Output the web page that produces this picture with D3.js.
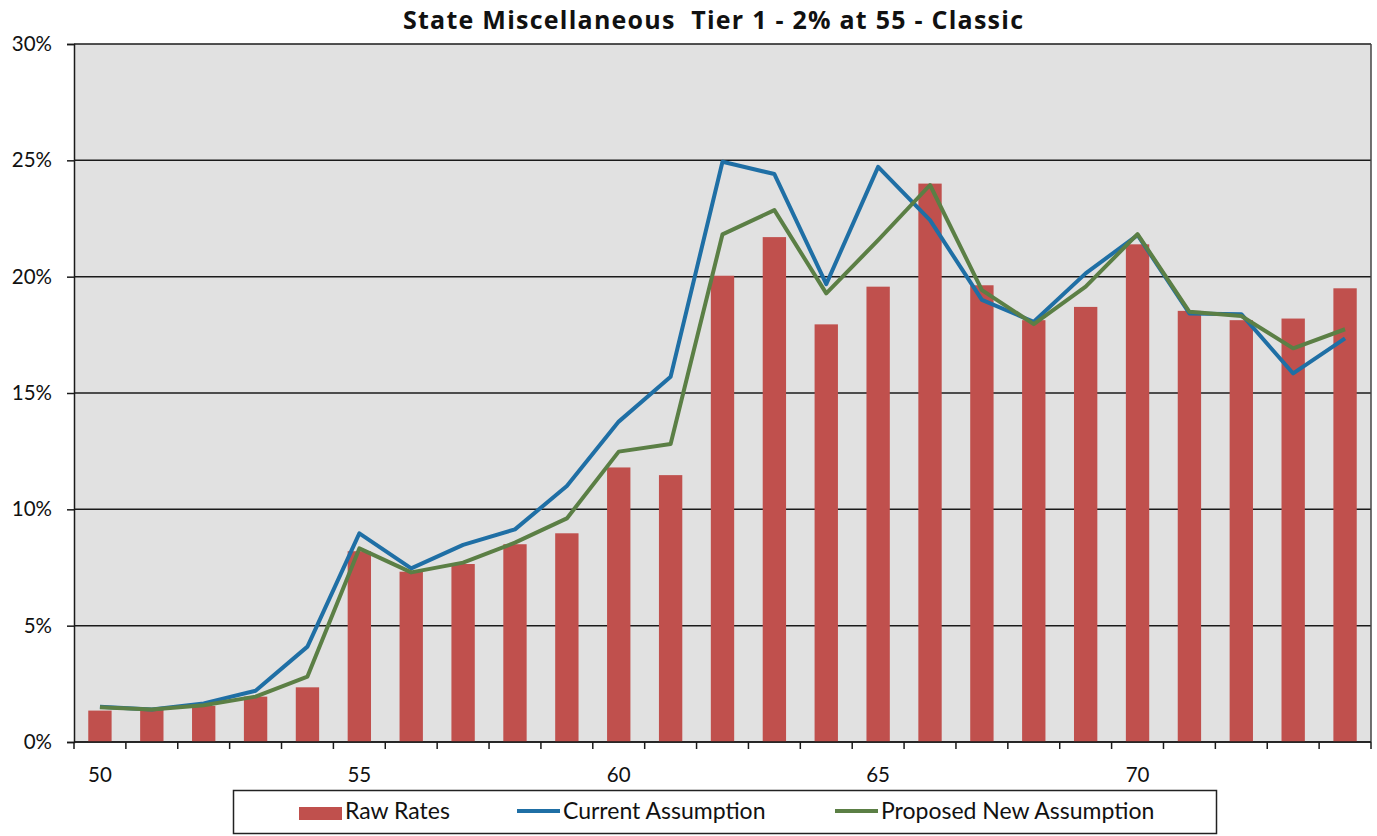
<!DOCTYPE html>
<html>
<head>
<meta charset="utf-8">
<script src="https://cdn.jsdelivr.net/npm/d3@7"></script>
<style>
  body { margin: 0; background: #fff; }
  text { font-family: Lato, "Open Sans", sans-serif; fill: #111; }
</style>
</head>
<body>
<svg id="chart"></svg>
<script>
const width = 1377, height = 836;

// ages on the x axis
const ages = [50, 51, 52, 53, 54, 55, 56, 57, 58, 59, 60, 61, 62, 63, 64, 65, 66, 67, 68, 69, 70, 71, 72, 73, 74];
// rates in percent
const rawRates = [1.35, 1.4, 1.55, 1.95, 2.35, 8.2, 7.32, 7.65, 8.5, 8.97, 11.8, 11.47, 20.04, 21.7, 17.95, 19.57, 24.0, 19.63, 18.13, 18.7, 21.39, 18.53, 18.13, 18.2, 19.5];
const currentAssumption = [1.52, 1.4, 1.66, 2.2, 4.1, 8.97, 7.46, 8.47, 9.14, 11.0, 13.77, 15.7, 24.94, 24.41, 19.68, 24.72, 22.43, 19.0, 18.06, 20.14, 21.79, 18.42, 18.39, 15.84, 17.35];
const proposedAssumption = [1.49, 1.4, 1.58, 1.95, 2.81, 8.32, 7.29, 7.71, 8.57, 9.61, 12.48, 12.81, 21.82, 22.86, 19.28, 21.57, 23.94, 19.42, 17.96, 19.57, 21.83, 18.49, 18.31, 16.92, 17.74];
const yTicks = [0, 5, 10, 15, 20, 25, 30];
const xLabels = [50, 55, 60, 65, 70];

const margin = { top: 44, right: 6, bottom: 94, left: 74 };
const plotW = width - margin.left - margin.right;
const plotH = height - margin.top - margin.bottom;

const svg = d3.select("#chart")
    .attr("width", width)
    .attr("height", height);

const x = d3.scaleBand().domain(ages).range([0, plotW]).padding(0);
const y = d3.scaleLinear().domain([0, 30]).range([plotH, 0]);

const g = svg.append("g").attr("transform", `translate(${margin.left},${margin.top})`);

// plot background
g.append("rect")
    .attr("width", plotW)
    .attr("height", plotH)
    .attr("fill", "#e1e1e1");

// gridlines
g.selectAll(".grid")
    .data(yTicks)
    .join("line")
    .attr("x1", 0)
    .attr("x2", plotW)
    .attr("y1", d => y(d))
    .attr("y2", d => y(d))
    .attr("stroke", "#1a1a1a")
    .attr("stroke-width", 1.5);

// bars
const barW = x.bandwidth() * 0.45;
g.selectAll(".bar")
    .data(ages)
    .join("rect")
    .attr("x", (d, i) => x(d) + (x.bandwidth() - barW) / 2)
    .attr("y", (d, i) => y(rawRates[i]))
    .attr("width", barW)
    .attr("height", (d, i) => plotH - y(rawRates[i]))
    .attr("fill", "#c0504d");

const line = d3.line()
    .x((d, i) => x(ages[i]) + x.bandwidth() / 2)
    .y(d => y(d));

g.append("path")
    .datum(currentAssumption)
    .attr("d", line)
    .attr("fill", "none")
    .attr("stroke", "#1f6fa5")
    .attr("stroke-width", 4)
    .attr("stroke-linejoin", "round");

g.append("path")
    .datum(proposedAssumption)
    .attr("d", line)
    .attr("fill", "none")
    .attr("stroke", "#5b7f45")
    .attr("stroke-width", 4)
    .attr("stroke-linejoin", "round");

// right border of plot area
g.append("line")
    .attr("x1", plotW).attr("x2", plotW)
    .attr("y1", 0).attr("y2", plotH)
    .attr("stroke", "#444")
    .attr("stroke-width", 1.5);

// y axis
const yAxis = g.append("g")
    .call(d3.axisLeft(y).tickValues(yTicks).tickSize(7).tickFormat(d => d + "%"));
yAxis.select(".domain").attr("stroke", "#1a1a1a").attr("stroke-width", 1.5);
yAxis.selectAll(".tick line").attr("stroke", "#1a1a1a").attr("stroke-width", 1.5);
yAxis.selectAll(".tick text")
    .attr("x", -22)
    .attr("font-size", 20.5)
    .attr("font-family", "Lato, sans-serif")
    .attr("fill", "#222");

// x axis: ticks at category boundaries, labels every 5 years
const xAxisG = g.append("g").attr("transform", `translate(0,${plotH})`);
xAxisG.append("line")
    .attr("x1", 0).attr("x2", plotW)
    .attr("stroke", "#1a1a1a").attr("stroke-width", 1.5);
xAxisG.selectAll(".xtick")
    .data(ages.concat([null]))
    .join("line")
    .attr("x1", (d, i) => i * x.step())
    .attr("x2", (d, i) => i * x.step())
    .attr("y1", 0)
    .attr("y2", 7)
    .attr("stroke", "#1a1a1a")
    .attr("stroke-width", 1.5);
xAxisG.selectAll(".xlabel")
    .data(xLabels)
    .join("text")
    .attr("x", d => x(d) + x.bandwidth() / 2)
    .attr("y", 40)
    .attr("text-anchor", "middle")
    .attr("font-size", 20.5)
    .attr("fill", "#222")
    .text(d => d);

// title
svg.append("text")
    .attr("x", 713)
    .attr("y", 29)
    .attr("text-anchor", "middle")
    .attr("font-size", 25)
    .attr("font-weight", "bold")
    .attr("textLength", 620)
    .attr("lengthAdjust", "spacing")
    .style("font-family", "'Open Sans', sans-serif")
    .style("white-space", "pre")
    .text("State Miscellaneous  Tier 1 - 2% at 55 - Classic");

// legend
const legend = svg.append("g");
legend.append("rect")
    .attr("x", 233.5).attr("y", 790.5)
    .attr("width", 983).attr("height", 43)
    .attr("fill", "#fff")
    .attr("stroke", "#222")
    .attr("stroke-width", 1.5);

const legendItems = [
    { label: "Raw Rates", type: "rect", color: "#c0504d", x: 299 },
    { label: "Current Assumption", type: "line", color: "#1f6fa5", x: 517 },
    { label: "Proposed New Assumption", type: "line", color: "#5b7f45", x: 835 }
];

legendItems.forEach(item => {
    if (item.type === "rect") {
        legend.append("rect")
            .attr("x", item.x).attr("y", 807)
            .attr("width", 43).attr("height", 13)
            .attr("fill", item.color);
    } else {
        legend.append("line")
            .attr("x1", item.x).attr("x2", item.x + 43)
            .attr("y1", 811).attr("y2", 811)
            .attr("stroke", item.color)
            .attr("stroke-width", 4);
    }
    legend.append("text")
        .attr("x", item.x + 46)
        .attr("y", 819)
        .attr("font-size", 23)
        .attr("fill", "#222")
        .text(item.label);
});
</script>
</body>
</html>
